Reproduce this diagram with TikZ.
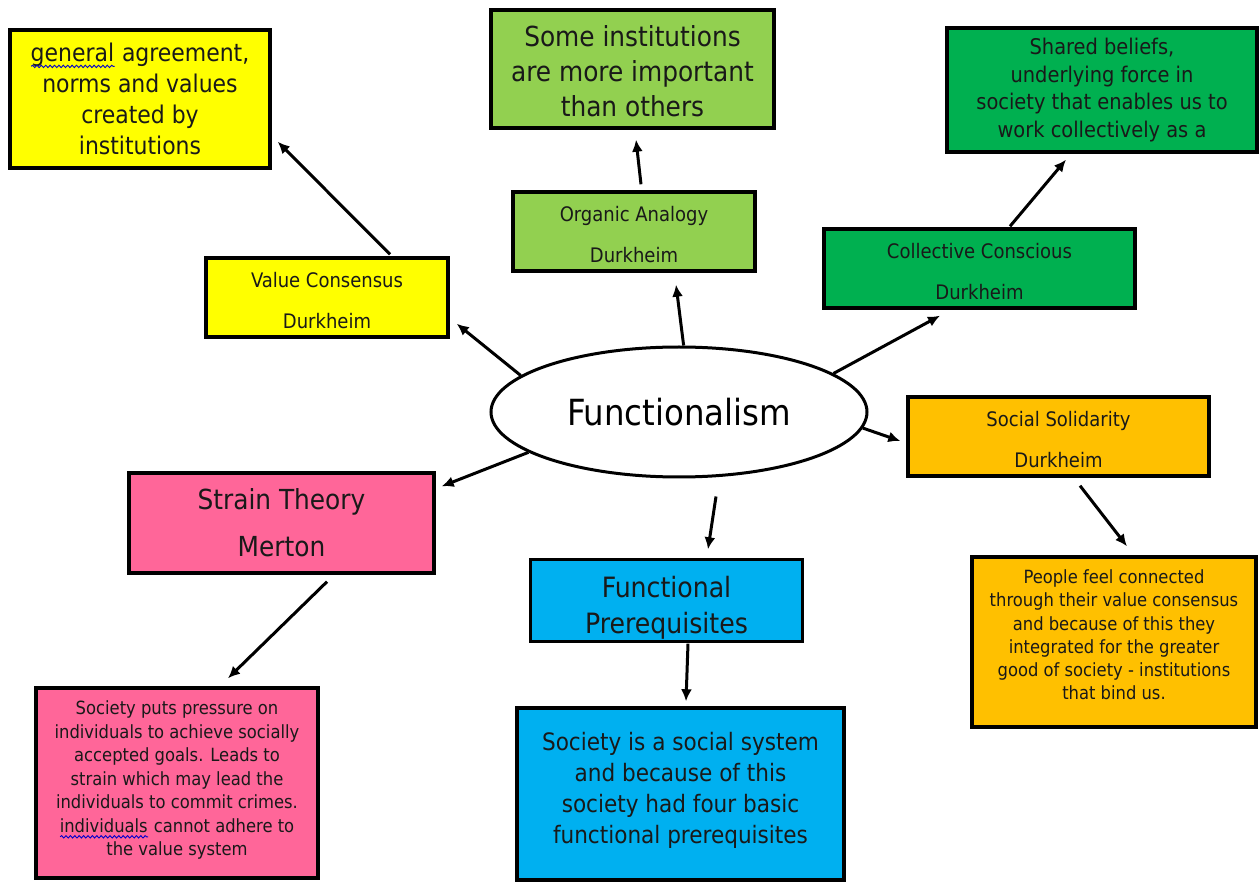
\documentclass[tikz,border=0pt]{standalone}
\usepackage{fontspec}
\setmainfont{DejaVu Sans Condensed}
\usetikzlibrary{shapes.geometric,arrows.meta,calc,decorations.pathmorphing}

% word with a blue wavy spell-check underline
\newlength\spellw
\newcommand\spellwave[1]{\settowidth\spellw{#1}\rlap{#1}\tikz[baseline=0pt]\draw[blue!80!black, line width=0.45pt,
  decorate, decoration={snake,amplitude=0.6pt,segment length=2.2pt}] (0pt,-2.4pt) -- (\spellw,-2.4pt);}
\newcommand\fs[2]{\fontsize{#1}{#2}\selectfont}

\definecolor{cYellow}{HTML}{FFFF00}
\definecolor{cLime}{HTML}{92D050}
\definecolor{cGreen}{HTML}{00B050}
\definecolor{cOrange}{HTML}{FFC000}
\definecolor{cPink}{HTML}{FF6699}
\definecolor{cBlue}{HTML}{00B0F0}

\tikzset{
  box/.style={draw=black, line width=1.7pt, rectangle, inner sep=0pt, align=center, text=black!90},
  txt/.style={inner sep=0pt, align=center, text=black!90},
  pair/.style={txt, font=\fs{10}{20.5}},
  arr/.style={line width=1.5pt, -{Latex[length=6pt,width=5.5pt]}},
}

\begin{document}
\begin{tikzpicture}[x=0.5pt,y=-0.5pt]
\useasboundingbox (0,0) rectangle (1260,882);

% central ellipse
\node[draw, line width=1.5pt, ellipse, minimum width=188pt, minimum height=65pt, inner sep=0pt,
      font=\fs{18}{20}] (fn) at (679,412) {Functionalism};

% upper row
\node[box, fill=cYellow, minimum width=130pt, minimum height=69pt, font=\fs{12.2}{15.5}]
  (gen) at (140,99) {\spellwave{general} agreement,\\norms and values\\created by\\institutions};
\node[box, fill=cLime, minimum width=141.5pt, minimum height=59pt] (some) at (632.5,69) {};
\node[txt, font=\fs{13.8}{17.5}] (some-t) at ($(some.center)+(0,2)$) {Some institutions\\are more important\\than others};
\node[box, fill=cGreen, minimum width=155pt, minimum height=62pt, font=\fs{10.8}{13.75}]
  (shared) at (1102,90) {Shared beliefs,\\underlying force in\\society that enables us to\\work collectively as a};

\node[box, fill=cYellow, minimum width=121pt, minimum height=39.5pt] (vc) at (327,297.5) {};
\node[pair] (vc-t) at ($(vc.center)+(0,3)$) {Value Consensus\\Durkheim};
\node[box, fill=cLime, minimum width=121pt, minimum height=39.5pt] (oa) at (634,231.5) {};
\node[pair] (oa-t) at ($(oa.center)+(0,3)$) {Organic Analogy\\Durkheim};
\node[box, fill=cGreen, minimum width=155.5pt, minimum height=39.5pt] (cc) at (979.5,268.5) {};
\node[pair] (cc-t) at ($(cc.center)+(0,3)$) {Collective Conscious\\Durkheim};
\node[box, fill=cOrange, minimum width=150.5pt, minimum height=39.5pt] (ss) at (1058.5,436.5) {};
\node[pair] (ss-t) at ($(ss.center)+(0,3)$) {Social Solidarity\\Durkheim};

% lower row
\node[box, fill=cPink, minimum width=152.5pt, minimum height=50pt, font=\fs{13.8}{23.5}]
  (st) at (281.5,523) {Strain Theory\\Merton};

\node[box, draw=none, fill=cBlue, minimum width=134.5pt, minimum height=39.5pt] (fp) at (666.5,600.5) {};
\begin{scope}
  \clip (fp.south west) rectangle (fp.north east);
  \node[txt, font=\fs{14}{18}] (fp-t) at ($(fp.center)+(0,7)$) {Functional\\Prerequisites};
\end{scope}
\draw[line width=1.7pt] (fp.south west) rectangle (fp.north east);

\node[box, fill=cBlue, minimum width=163.5pt, minimum height=86pt] (sys) at (680.5,794) {};
\node[txt, font=\fs{12}{15.5}] (sys-t) at ($(sys.center)+(0,-3.5)$)
  {Society is a social system\\and because of this\\society had four basic\\functional prerequisites};
\node[box, fill=cOrange, minimum width=142pt, minimum height=85pt] (pf) at (1114,642) {};
\node[txt, font=\fs{9.1}{11.6}] (pf-t) at ($(pf.center)+(0,-7)$)
  {People feel connected\\through their value consensus\\and because of this they\\integrated for the greater\\good of society - institutions\\that bind us.};
\node[box, fill=cPink, minimum width=141pt, minimum height=95pt] (sp) at (177,783) {};
\node[txt, font=\fs{9.1}{11.75}] (sp-t) at ($(sp.center)+(0,-3)$)
  {Society puts pressure on\\individuals to achieve socially\\accepted goals. Leads to\\strain which may lead the\\individuals to commit crimes.\\\spellwave{individuals} cannot adhere to\\the value system};

% connectors
\draw[arr] ($(vc.north)+(63,-2)$) -- ($(gen.south east)+(6,-28)$);
\draw[arr] (fn.167.8) -- ($(vc.south east)+(7,-15)$);
\draw[arr] (fn.86.4) -- ($(oa.south)+(42,12)$);
\draw[arr] ($(oa.north)+(7,-6)$) -- ($(some.south)+(3.5,10)$);
\draw[arr] (fn.14.9) -- ($(cc.south)+(-39.5,6)$);
\draw[arr] ($(cc.north)+(30.5,-1)$) -- ($(shared.south)+(-36,6)$);
\draw[arr] (fn.-5.6) -- ($(ss.west)+(-6,4.5)$);
\draw[arr] ($(ss.south)+(21.5,8)$) -- ($(pf.north)+(13,-9)$);
\draw[arr] (fn.195.8) -- ($(st.north east)+(6,15)$);
\draw[arr] ($(st.south)+(45.5,7)$) -- ($(sp.north)+(51,-8)$);
\draw[arr] ($(fn.south)+(37,18)$) -- ($(fp.north)+(41.5,-10)$);
\draw[arr] ($(fp.south)+(21.5,2)$) -- ($(sys.north)+(5.5,-5)$);
\end{tikzpicture}
\end{document}
